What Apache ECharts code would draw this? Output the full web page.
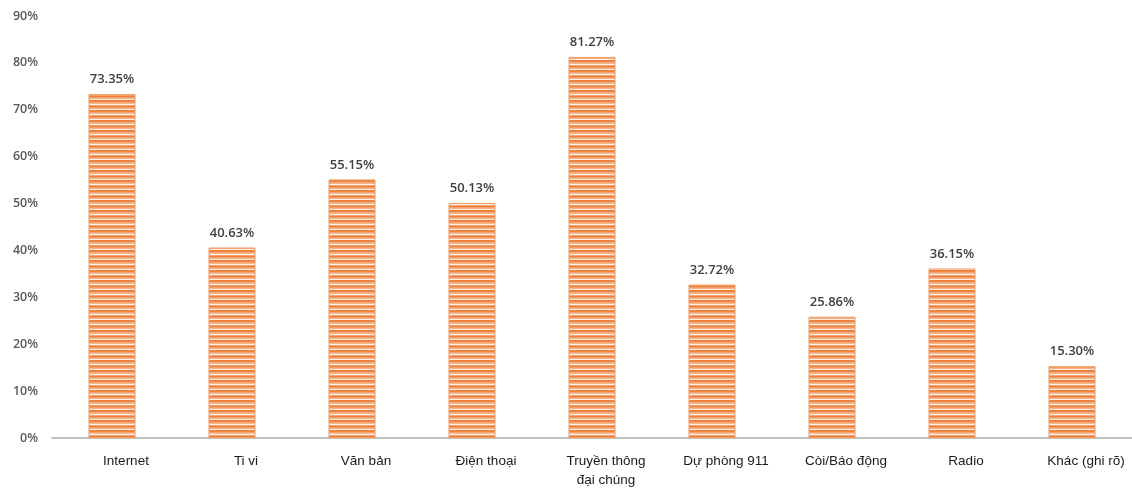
<!DOCTYPE html>
<html>
<head>
<meta charset="utf-8">
<script src="https://cdn.jsdelivr.net/npm/echarts@6/dist/echarts.min.js"></script>
<style>
html,body{margin:0;padding:0;background:#fff;}
#chart{width:1132px;height:490px;}
</style>
</head>
<body>
<div id="chart"></div>
<script>
const categories = ['Internet', 'Ti vi', 'Văn bản', 'Điện thoại', 'Truyền thông\nđại chúng', 'Dự phòng 911', 'Còi/Báo động', 'Radio', 'Khác (ghi rõ)'];
const values = [73.35, 40.63, 55.15, 50.13, 81.27, 32.72, 25.86, 36.15, 15.30];
const yTicks = [0, 10, 20, 30, 40, 50, 60, 70, 80, 90];

function makePattern() {
  const c = document.createElement('canvas');
  c.width = 8; c.height = 10;
  const ctx = c.getContext('2d');
  const rows = ['#EE7F3B', '#EF8746', '#F3A776', '#F5B68C', '#FFF4EC', '#F3A470', '#EE7F3B', '#F2A06A', '#F5B48A', '#FFEBDD'];
  rows.forEach((col, i) => { ctx.fillStyle = col; ctx.fillRect(0, i, 8, 1); });
  return c;
}

const chart = echarts.init(document.getElementById('chart'));
chart.setOption({
  animation: false,
  grid: { left: 52, width: 1086, top: 16, height: 428, containLabel: false },
  xAxis: {
    type: 'category',
    data: categories,
    axisLine: { lineStyle: { color: '#BFBFBF', width: 2 } },
    axisTick: { show: false },
    axisLabel: { color: '#1a1a1a', fontFamily: 'Liberation Sans, Arial', fontSize: 13.5, margin: 14, lineHeight: 19, interval: 0, padding: [0, 0, 0, 28] }
  },
  yAxis: {
    type: 'value',
    min: 0, max: 90, interval: 10,
    splitLine: { show: false },
    axisLine: { show: false },
    axisTick: { show: false },
    axisLabel: {
      formatter: v => yTicks.includes(v) ? v + '%' : '',
      color: '#595959', fontFamily: 'Open Sans, Liberation Sans', fontSize: 12.5, fontWeight: 600, margin: 14
    }
  },
  series: [{
    type: 'bar',
    data: values,
    barWidth: 47,
    itemStyle: {
      color: { image: makePattern(), repeat: 'repeat' },
      borderColor: '#F09A62', borderWidth: 1
    },
    label: {
      show: true, position: 'top', distance: 8,
      formatter: p => p.value.toFixed(2) + '%',
      color: '#404040', fontFamily: 'Open Sans, Liberation Sans', fontSize: 13, fontWeight: 600
    }
  }]
});
</script>
</body>
</html>
